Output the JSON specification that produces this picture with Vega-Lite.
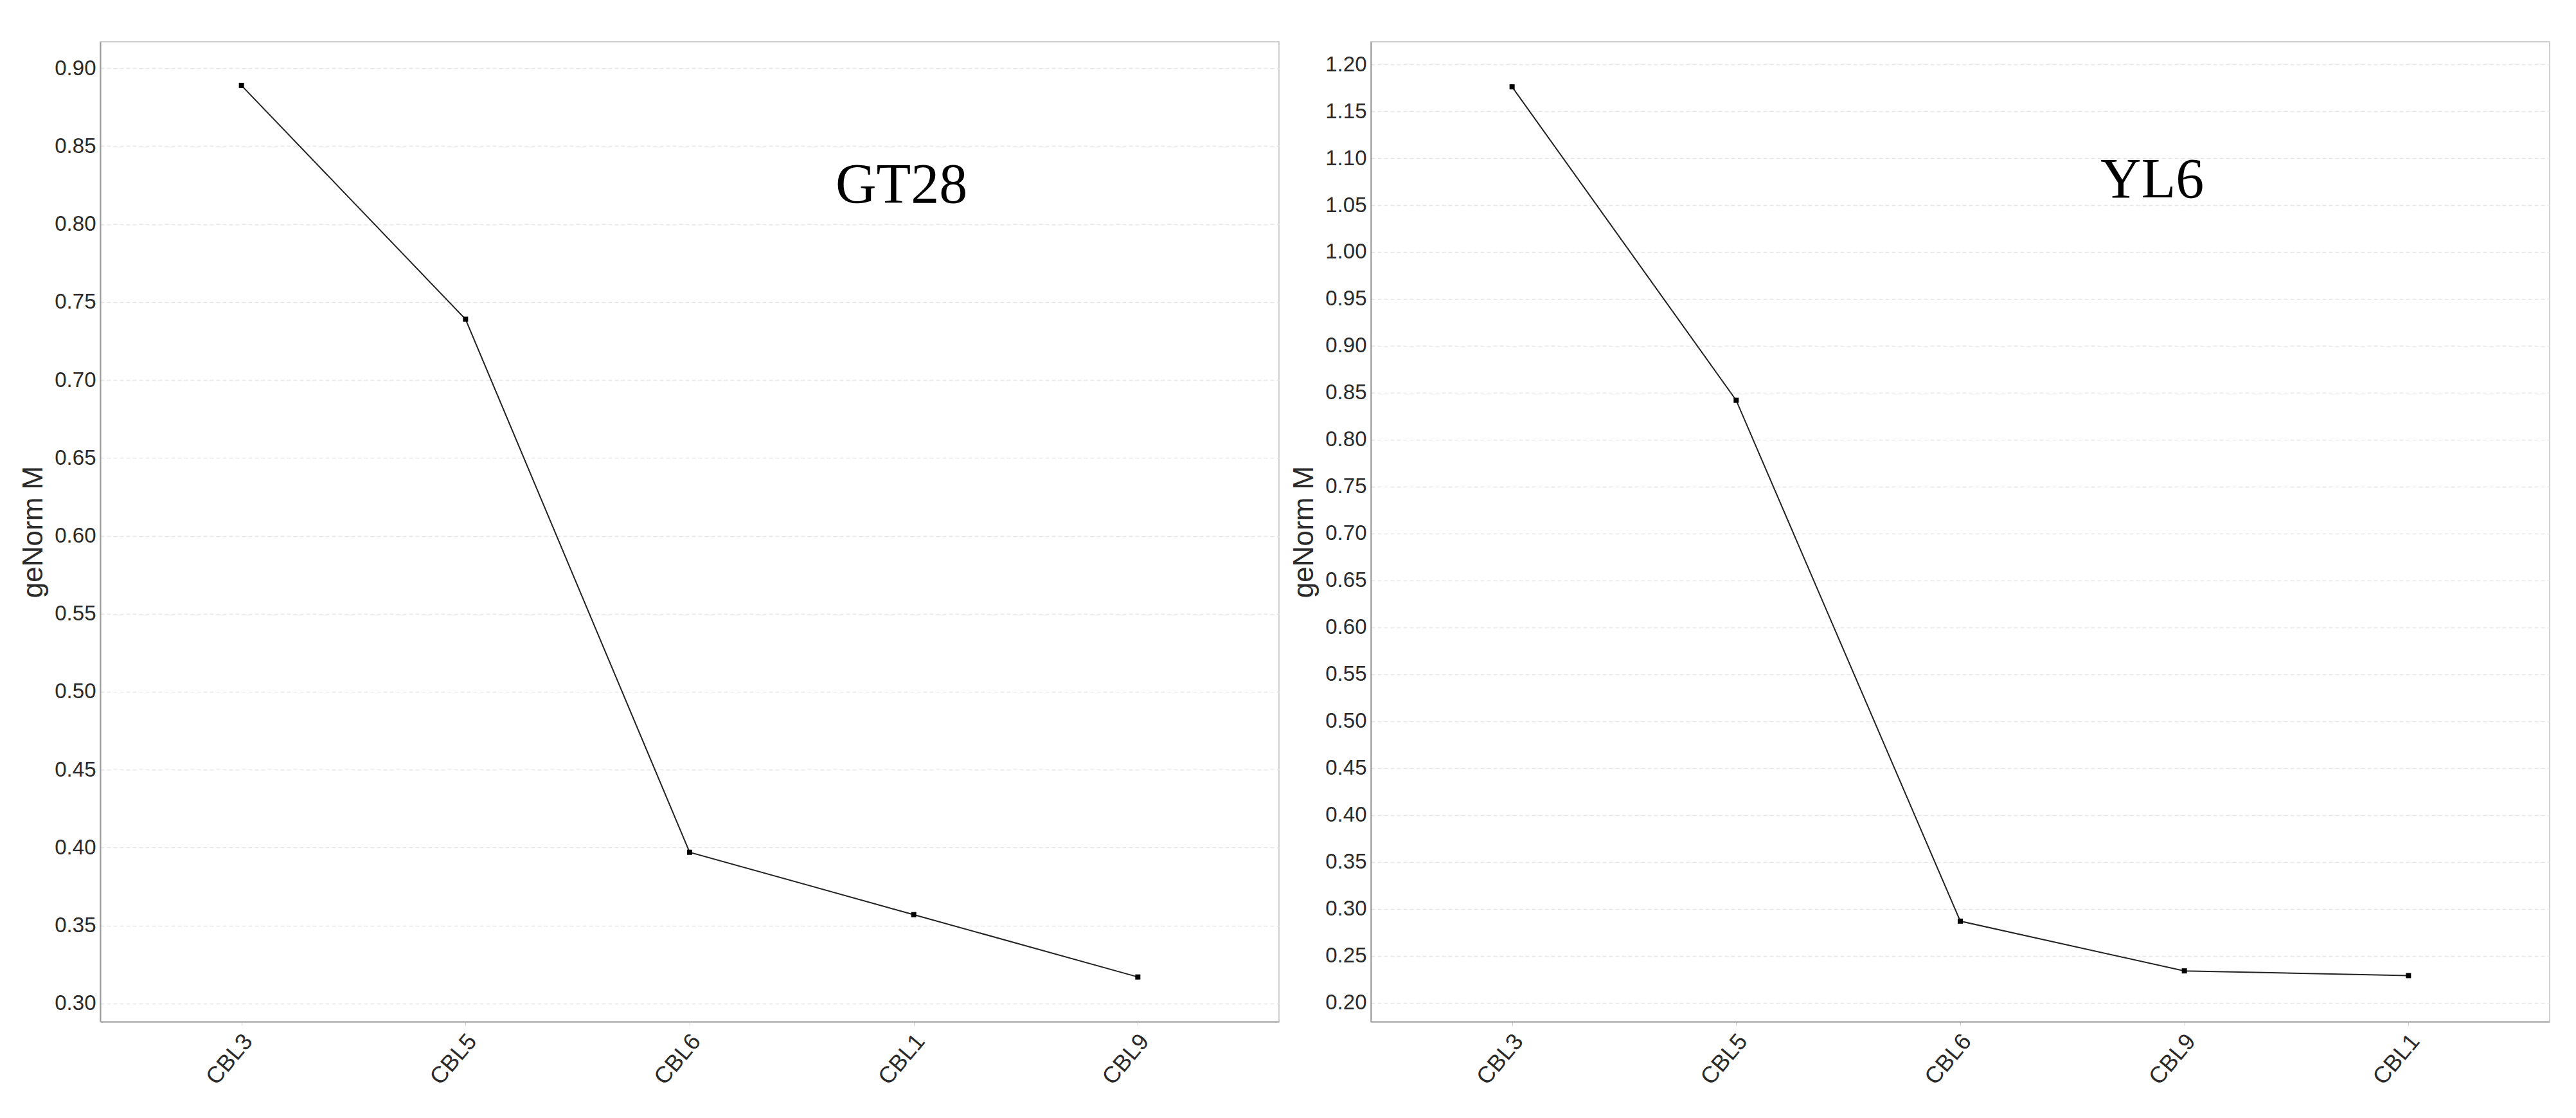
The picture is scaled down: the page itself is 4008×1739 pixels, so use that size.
{
  "$schema": "https://vega.github.io/schema/vega-lite/v6.json",
  "background": "white",
  "padding": {"left": 29, "top": 64, "right": 0, "bottom": 0},
  "spacing": 15,
  "config": {
    "font": "Liberation Sans",
    "view": {"stroke": "#cfcfcf", "strokeWidth": 2},
    "axisY": {
      "labelFont": "Liberation Sans",
      "labelFontSize": 33,
      "labelColor": "#2a2a2a",
      "labelPadding": 7,
      "ticks": false,
      "domainColor": "#9a9a9a",
      "domainWidth": 2,
      "grid": true,
      "gridColor": "#e6e6e6",
      "gridDash": [6, 4],
      "gridWidth": 1.5,
      "titleFont": "Liberation Sans",
      "titleFontSize": 44,
      "titleFontWeight": "normal",
      "titleColor": "#2a2a2a",
      "titlePadding": 10
    },
    "axisX": {
      "labelAngle": -50,
      "labelAlign": "right",
      "labelBaseline": "middle",
      "labelFont": "Liberation Sans",
      "labelFontSize": 36,
      "labelColor": "#2a2a2a",
      "labelPadding": 18,
      "labelOffset": 10,
      "tickSize": 6,
      "tickColor": "#cccccc",
      "domainColor": "#bdbdbd",
      "domainWidth": 3,
      "grid": false,
      "title": null
    }
  },
  "datasets": {
    "gt28": [
      {"gene": "CBL3", "M": 0.889},
      {"gene": "CBL5", "M": 0.739},
      {"gene": "CBL6", "M": 0.397},
      {"gene": "CBL1", "M": 0.357},
      {"gene": "CBL9", "M": 0.317}
    ],
    "yl6": [
      {"gene": "CBL3", "M": 1.176},
      {"gene": "CBL5", "M": 0.842},
      {"gene": "CBL6", "M": 0.287},
      {"gene": "CBL9", "M": 0.234},
      {"gene": "CBL1", "M": 0.229}
    ]
  },
  "hconcat": [
    {
      "width": 1834,
      "height": 1524,
      "layer": [
        {
          "data": {"name": "gt28"},
          "mark": {"type": "line", "color": "#222222", "strokeWidth": 2},
          "encoding": {
            "x": {"field": "gene", "type": "nominal", "scale": {"type": "point", "domain": ["CBL3", "CBL5", "CBL6", "CBL1", "CBL9"], "padding": 0.63}},
            "y": {"field": "M", "type": "quantitative", "scale": {"domain": [0.2884, 0.917], "nice": false, "zero": false}, "axis": {"values": [0.3, 0.35, 0.4, 0.45, 0.5, 0.55, 0.6, 0.65, 0.7, 0.75, 0.8, 0.85, 0.9], "format": ".2f", "title": "geNorm M"}}
          }
        },
        {
          "data": {"name": "gt28"},
          "mark": {"type": "point", "shape": "square", "filled": true, "color": "#000000", "size": 64, "opacity": 1},
          "encoding": {
            "x": {"field": "gene", "type": "nominal"},
            "y": {"field": "M", "type": "quantitative"}
          }
        },
        {
          "data": {"values": [{"label": "GT28"}]},
          "mark": {"type": "text", "font": "Liberation Serif", "fontSize": 88, "align": "center", "baseline": "alphabetic", "dx": -19, "color": "#000000"},
          "encoding": {
            "x": {"datum": "CBL1"},
            "y": {"datum": 0.814},
            "text": {"field": "label"}
          }
        }
      ]
    },
    {
      "width": 1834,
      "height": 1524,
      "layer": [
        {
          "data": {"name": "yl6"},
          "mark": {"type": "line", "color": "#222222", "strokeWidth": 2},
          "encoding": {
            "x": {"field": "gene", "type": "nominal", "scale": {"type": "point", "domain": ["CBL3", "CBL5", "CBL6", "CBL9", "CBL1"], "padding": 0.63}},
            "y": {"field": "M", "type": "quantitative", "scale": {"domain": [0.18, 1.224], "nice": false, "zero": false}, "axis": {"values": [0.2, 0.25, 0.3, 0.35, 0.4, 0.45, 0.5, 0.55, 0.6, 0.65, 0.7, 0.75, 0.8, 0.85, 0.9, 0.95, 1.0, 1.05, 1.1, 1.15, 1.2], "format": ".2f", "title": "geNorm M"}}
          }
        },
        {
          "data": {"name": "yl6"},
          "mark": {"type": "point", "shape": "square", "filled": true, "color": "#000000", "size": 64, "opacity": 1},
          "encoding": {
            "x": {"field": "gene", "type": "nominal"},
            "y": {"field": "M", "type": "quantitative"}
          }
        },
        {
          "data": {"values": [{"label": "YL6"}]},
          "mark": {"type": "text", "font": "Liberation Serif", "fontSize": 88, "align": "center", "baseline": "alphabetic", "dx": -50, "color": "#000000"},
          "encoding": {
            "x": {"datum": "CBL9"},
            "y": {"datum": 1.058},
            "text": {"field": "label"}
          }
        }
      ]
    }
  ]
}
